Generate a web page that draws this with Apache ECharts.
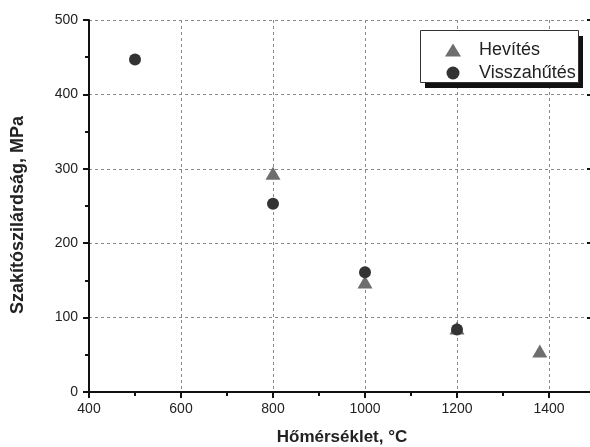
<!DOCTYPE html>
<html>
<head>
<meta charset="utf-8">
<script src="https://cdn.jsdelivr.net/npm/echarts@6/dist/echarts.min.js"></script>
<style>
  html, body { margin: 0; padding: 0; background: #fff; }
  #echart { width: 590px; height: 447px; }
</style>
</head>
<body>
<div id="echart"></div>
<script>
// adatok
var hevitesX = [800, 1000, 1200, 1380];
var hevitesY = [294, 148, 86, 55];
var visszaX = [500, 800, 1000, 1200];
var visszaY = [447, 253, 161, 84];

function pairs(xs, ys) {
    var out = [];
    for (var i = 0; i < xs.length; i++) {
        out.push([xs[i], ys[i]]);
    }
    return out;
}

var myChart = echarts.init(document.getElementById('echart'));
var font = 'Liberation Sans, Arial, sans-serif';
var gridLine = { show: true, lineStyle: { color: '#8a8a8a', width: 1, type: [3, 3] } };
var axisTickStyle = { color: '#111', width: 2 };

var option = {
    backgroundColor: '#fff',
    animation: false,
    grid: { left: 89, width: 506, top: 20, bottom: 55, outerBoundsMode: 'none', containLabel: false },
    // jelmagyarázat doboza árnyékkal
    graphic: [{
        type: 'rect', z: 3,
        shape: { x: 425, y: 36, width: 158, height: 52 },
        style: { fill: '#111' }
    }, {
        type: 'rect', z: 3,
        shape: { x: 420.5, y: 30.5, width: 158, height: 52 },
        style: { fill: '#fff', stroke: '#333', lineWidth: 1 }
    }],
    legend: {
        orient: 'vertical',
        left: 420,
        top: 31,
        z: 5,
        padding: [9, 8, 6, 25],
        itemGap: 3,
        itemWidth: 16,
        itemHeight: 13,
        textStyle: { fontFamily: font, fontSize: 18, lineHeight: 20, color: '#222', padding: [0, 0, 0, 13] },
        data: [
            { name: 'Hevítés', icon: 'triangle' },
            { name: 'Visszahűtés', icon: 'circle' }
        ]
    },
    xAxis: [{
        type: 'value',
        position: 'bottom',
        min: 400, max: 1500, interval: 200,
        name: 'Hőmérséklet, °C',
        nameLocation: 'middle',
        nameGap: 37,
        nameTextStyle: { fontFamily: font, fontSize: 17, fontWeight: 'bold', color: '#222' },
        axisLine: { lineStyle: { color: '#111', width: 2 } },
        axisTick: { inside: false, length: 6, lineStyle: axisTickStyle },
        minorTick: { show: true, splitNumber: 2, length: 4, lineStyle: axisTickStyle },
        axisLabel: {
            fontFamily: font, fontSize: 14, color: '#222', margin: 10,
            formatter: function (v) { return v > 1400 ? '' : v; }
        },
        splitLine: gridLine
    }, {
        type: 'value',
        position: 'top',
        min: 400, max: 1500, interval: 200,
        axisLine: { lineStyle: { color: '#111', width: 2 } },
        axisTick: { inside: true, length: 6, lineStyle: axisTickStyle },
        minorTick: { show: true, splitNumber: 2, length: 4, lineStyle: axisTickStyle },
        axisLabel: { show: false },
        splitLine: { show: false }
    }],
    yAxis: [{
        type: 'value',
        position: 'left',
        min: 0, max: 500, interval: 100,
        name: 'Szakítószilárdság, MPa',
        nameLocation: 'middle',
        nameGap: 62,
        nameTextStyle: {
            fontFamily: font, fontSize: 18, fontWeight: 'bold', color: '#222',
            padding: [0, 18, 0, 0]
        },
        axisLine: { show: true, lineStyle: { color: '#111', width: 2 } },
        axisTick: { show: true, inside: false, length: 6, lineStyle: axisTickStyle },
        minorTick: { show: true, splitNumber: 2, length: 4, lineStyle: axisTickStyle },
        axisLabel: { fontFamily: font, fontSize: 14, color: '#222', margin: 11 },
        splitLine: gridLine
    }, {
        type: 'value',
        position: 'right',
        min: 0, max: 500, interval: 100,
        axisLine: { show: true, lineStyle: { color: '#111', width: 2 } },
        axisTick: { show: true, inside: true, length: 8, lineStyle: axisTickStyle },
        axisLabel: { show: false },
        splitLine: { show: false }
    }],
    series: [{
        name: 'Hevítés',
        type: 'scatter',
        symbol: 'triangle',
        symbolSize: [15, 13],
        itemStyle: { color: '#6e6e6e', opacity: 1 },
        data: pairs(hevitesX, hevitesY)
    }, {
        name: 'Visszahűtés',
        type: 'scatter',
        symbol: 'circle',
        symbolSize: 12,
        itemStyle: { color: '#333', opacity: 1 },
        data: pairs(visszaX, visszaY)
    }]
};
myChart.setOption(option);
</script>
</body>
</html>
